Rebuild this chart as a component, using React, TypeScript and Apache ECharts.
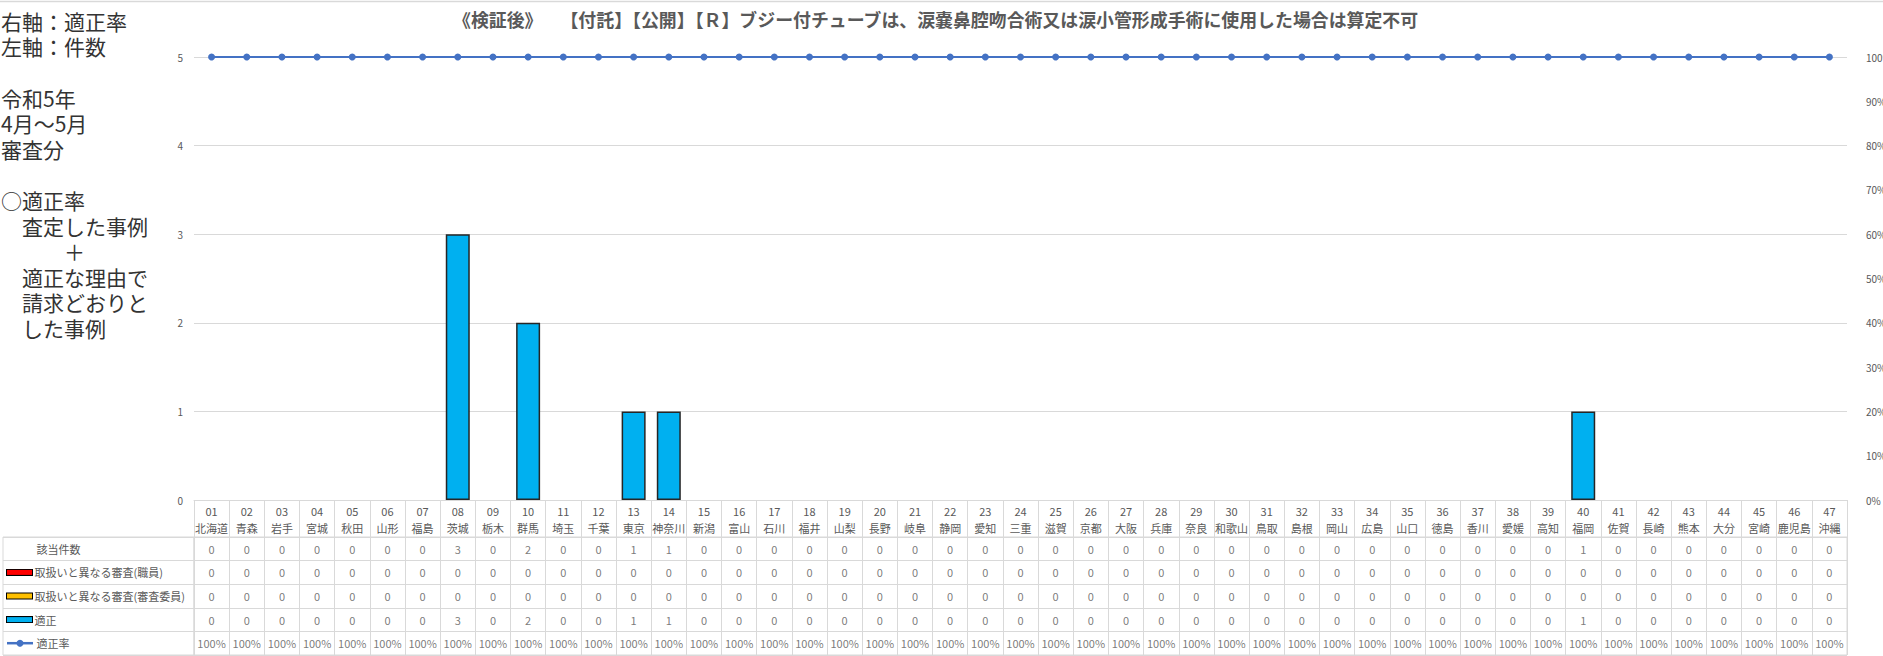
import React, { useEffect, useRef } from "react";
import * as echarts from "echarts";

const FONT = "'Noto Sans CJK JP', 'Noto Sans', sans-serif";

const prefCodes = [
  "01","02","03","04","05","06","07","08","09","10",
  "11","12","13","14","15","16","17","18","19","20",
  "21","22","23","24","25","26","27","28","29","30",
  "31","32","33","34","35","36","37","38","39","40",
  "41","42","43","44","45","46","47",
];
const prefNames = [
  "北海道","青森","岩手","宮城","秋田","山形","福島","茨城","栃木","群馬",
  "埼玉","千葉","東京","神奈川","新潟","富山","石川","福井","山梨","長野",
  "岐阜","静岡","愛知","三重","滋賀","京都","大阪","兵庫","奈良","和歌山",
  "鳥取","島根","岡山","広島","山口","徳島","香川","愛媛","高知","福岡",
  "佐賀","長崎","熊本","大分","宮崎","鹿児島","沖縄",
];

// 該当件数
const totalCount = [
  0,0,0,0,0,0,0,3,0,2,
  0,0,1,1,0,0,0,0,0,0,
  0,0,0,0,0,0,0,0,0,0,
  0,0,0,0,0,0,0,0,0,1,
  0,0,0,0,0,0,0,
];
// 取扱いと異なる審査(職員)
const staffDiff = [
  0,0,0,0,0,0,0,0,0,0,
  0,0,0,0,0,0,0,0,0,0,
  0,0,0,0,0,0,0,0,0,0,
  0,0,0,0,0,0,0,0,0,0,
  0,0,0,0,0,0,0,
];
// 取扱いと異なる審査(審査委員)
const committeeDiff = [
  0,0,0,0,0,0,0,0,0,0,
  0,0,0,0,0,0,0,0,0,0,
  0,0,0,0,0,0,0,0,0,0,
  0,0,0,0,0,0,0,0,0,0,
  0,0,0,0,0,0,0,
];
// 適正
const proper = [
  0,0,0,0,0,0,0,3,0,2,
  0,0,1,1,0,0,0,0,0,0,
  0,0,0,0,0,0,0,0,0,0,
  0,0,0,0,0,0,0,0,0,1,
  0,0,0,0,0,0,0,
];
// 適正率
const properRate = [
  1,1,1,1,1,1,1,1,1,1,
  1,1,1,1,1,1,1,1,1,1,
  1,1,1,1,1,1,1,1,1,1,
  1,1,1,1,1,1,1,1,1,1,
  1,1,1,1,1,1,1,
];

const rowNames = [
  "該当件数",
  "取扱いと異なる審査(職員)",
  "取扱いと異なる審査(審査委員)",
  "適正",
  "適正率",
];
const rowIcons = ["blank", "red", "orange", "blue", "blank"];

const leftAxisTicks = [0, 1, 2, 3, 4, 5];

const titleHead = "《検証後》";
const titleBody =
  "【付託】【公開】【Ｒ】ブジー付チューブは、涙嚢鼻腔吻合術又は涙小管形成手術に使用した場合は算定不可";

const sideNote =
  "右軸：適正率\n左軸：件数\n\n令和5年\n4月～5月\n審査分\n\n○適正率\n　査定した事例\n　　　＋\n　適正な理由で\n　請求どおりと\n　した事例";

const COLORS = {
  red: "#FF0000",
  orange: "#FFC000",
  blue: "#00B0F0",
  line: "#4472C4",
  grid: "#D9D9D9",
  text: "#595959",
};

const W = 1883;
const H = 656;
const PLOT_LEFT = 194;
const PLOT_RIGHT = 36;
const PLOT_TOP = 57;
const PLOT_BOTTOM_Y = 500;
const TABLE_TOP = 537;
const TABLE_H = 118;

export default function App() {
  const ref = useRef<HTMLDivElement>(null);

  useEffect(() => {
    if (!ref.current) return;
    const chart = echarts.init(ref.current, undefined, { renderer: "svg" });

    const categories = prefCodes.map((c, i) => `${c}\n${prefNames[i]}`);
    const nz = (arr: number[]) => arr.map((v) => (v === 0 ? null : v));

    const tableRows: string[][] = [
      totalCount.map(String),
      staffDiff.map(String),
      committeeDiff.map(String),
      proper.map(String),
      properRate.map((v) => `${Math.round(v * 100)}%`),
    ];
    const cellData: any[] = [];
    tableRows.forEach((row, r) => {
      row.forEach((txt, c) => {
        cellData.push([c, r, txt]);
      });
    });

    const rich: any = {
      t: { fontSize: 11, color: COLORS.text, fontFamily: FONT },
      blank: { width: 27, height: 6 },
      red: { width: 25, height: 5, backgroundColor: COLORS.red, borderColor: "#000", borderWidth: 1 },
      orange: { width: 25, height: 5, backgroundColor: COLORS.orange, borderColor: "#000", borderWidth: 1 },
      blue: { width: 25, height: 5, backgroundColor: COLORS.blue, borderColor: "#000", borderWidth: 1 },
    };

    const rateRowY = TABLE_TOP + (TABLE_H / 5) * 4.5;
    const titleStyle = {
      fontSize: 17.9,
      fontWeight: "bold",
      color: COLORS.text,
      fontFamily: FONT,
    };

    chart.setOption({
      animation: false,
      backgroundColor: "#fff",
      textStyle: { fontFamily: FONT },
      title: {
        text: `{h|${titleHead}}{g|}{b|${titleBody}}`,
        left: 453,
        top: 10,
        padding: 0,
        textStyle: {
          ...titleStyle,
          rich: {
            h: { ...titleStyle },
            b: { ...titleStyle },
            g: { width: 18, height: 10 },
          },
        },
      },
      graphic: [
        {
          type: "line",
          shape: { x1: 0, y1: 1.5, x2: W, y2: 1.5 },
          style: { stroke: COLORS.grid, lineWidth: 1.5 },
          silent: true,
        },
        {
          type: "text",
          left: 1,
          top: 8,
          style: {
            text: sideNote,
            fontSize: 21,
            lineHeight: 25.6,
            fill: "#333",
            fontFamily: FONT,
          },
          silent: true,
        },
        {
          type: "line",
          shape: { x1: 7, y1: rateRowY, x2: 33, y2: rateRowY },
          style: { stroke: COLORS.line, lineWidth: 2.5 },
          silent: true,
        },
        {
          type: "circle",
          shape: { cx: 20, cy: rateRowY, r: 3.5 },
          style: { fill: COLORS.line },
          silent: true,
        },
      ],
      grid: [
        {
          left: PLOT_LEFT, right: PLOT_RIGHT, top: PLOT_TOP, height: PLOT_BOTTOM_Y - PLOT_TOP,
          outerBoundsMode: "none", containLabel: false,
        },
        {
          left: PLOT_LEFT, right: PLOT_RIGHT, top: TABLE_TOP, height: TABLE_H,
          show: true, borderColor: COLORS.grid, borderWidth: 1, backgroundColor: "transparent",
          outerBoundsMode: "none", containLabel: false,
        },
        {
          left: 3, width: PLOT_LEFT - 3, top: TABLE_TOP, height: TABLE_H,
          show: true, borderColor: COLORS.grid, borderWidth: 1, backgroundColor: "transparent",
          outerBoundsMode: "none", containLabel: false,
        },
      ],
      xAxis: [
        {
          type: "category",
          gridIndex: 0,
          data: categories,
          axisLine: { show: true, lineStyle: { color: COLORS.grid, width: 1 } },
          axisTick: { show: true, interval: 0, length: TABLE_TOP - PLOT_BOTTOM_Y, lineStyle: { color: COLORS.grid } },
          axisLabel: {
            interval: 0,
            margin: 2,
            fontSize: 11,
            lineHeight: 17,
            color: COLORS.text,
            fontFamily: FONT,
          },
        },
        {
          type: "category",
          gridIndex: 1,
          data: prefCodes,
          axisLine: { show: false },
          axisTick: { show: false },
          axisLabel: { show: false },
          splitLine: { show: true, interval: 0, lineStyle: { color: COLORS.grid } },
        },
        { type: "value", gridIndex: 2, show: false, min: 0, max: 1 },
      ],
      yAxis: [
        {
          type: "value",
          gridIndex: 0,
          min: leftAxisTicks[0],
          max: leftAxisTicks[leftAxisTicks.length - 1],
          interval: 1,
          axisLine: { show: false },
          axisTick: { show: false },
          axisLabel: { fontSize: 10, color: COLORS.text, margin: 11, fontFamily: FONT },
          splitLine: { show: true, lineStyle: { color: COLORS.grid } },
        },
        {
          type: "value",
          gridIndex: 0,
          position: "right",
          min: 0,
          max: 1,
          interval: 0.1,
          axisLine: { show: false },
          axisTick: { show: false },
          splitLine: { show: false },
          axisLabel: {
            fontSize: 10,
            color: COLORS.text,
            margin: 19,
            fontFamily: FONT,
            formatter: (v: number) => `${Math.round(v * 100)}%`,
          },
        },
        {
          type: "category",
          gridIndex: 1,
          data: rowNames,
          inverse: true,
          axisLine: { show: false },
          axisTick: { show: false },
          axisLabel: { show: false },
          splitLine: { show: true, interval: 0, lineStyle: { color: COLORS.grid } },
        },
        {
          type: "category",
          gridIndex: 2,
          data: rowNames,
          inverse: true,
          axisLine: { show: false },
          axisTick: { show: false },
          splitLine: { show: true, interval: 0, lineStyle: { color: COLORS.grid } },
          axisLabel: {
            inside: true,
            margin: 4,
            interval: 0,
            formatter: (v: string, i: number) => `{${rowIcons[i]}|}{t| ${v}}`,
            rich,
          },
        },
      ],
      series: [
        {
          name: rowNames[1],
          type: "bar",
          stack: "cnt",
          xAxisIndex: 0,
          yAxisIndex: 0,
          barWidth: 24,
          data: nz(staffDiff),
          itemStyle: { color: COLORS.red, borderColor: "#262626", borderWidth: 1.5 },
        },
        {
          name: rowNames[2],
          type: "bar",
          stack: "cnt",
          xAxisIndex: 0,
          yAxisIndex: 0,
          barWidth: 24,
          data: nz(committeeDiff),
          itemStyle: { color: COLORS.orange, borderColor: "#262626", borderWidth: 1.5 },
        },
        {
          name: rowNames[3],
          type: "bar",
          stack: "cnt",
          xAxisIndex: 0,
          yAxisIndex: 0,
          barWidth: 24,
          data: nz(proper),
          itemStyle: { color: COLORS.blue, borderColor: "#262626", borderWidth: 1.5 },
        },
        {
          name: rowNames[4],
          type: "line",
          xAxisIndex: 0,
          yAxisIndex: 1,
          data: properRate,
          symbol: "circle",
          symbolSize: 7,
          lineStyle: { color: COLORS.line, width: 2 },
          itemStyle: { color: COLORS.line },
        },
        {
          name: "table",
          type: "scatter",
          xAxisIndex: 1,
          yAxisIndex: 2,
          data: cellData,
          symbolSize: 1,
          itemStyle: { color: "rgba(0,0,0,0)" },
          label: {
            show: true,
            position: "inside",
            fontSize: 11,
            color: COLORS.text,
            fontFamily: FONT,
            formatter: (p: any) => p.data[2],
          },
        },
      ],
    });

    return () => chart.dispose();
  }, []);

  return (
    <div
      ref={ref}
      style={{ position: "absolute", left: 0, top: 0, width: W, height: H }}
    />
  );
}
